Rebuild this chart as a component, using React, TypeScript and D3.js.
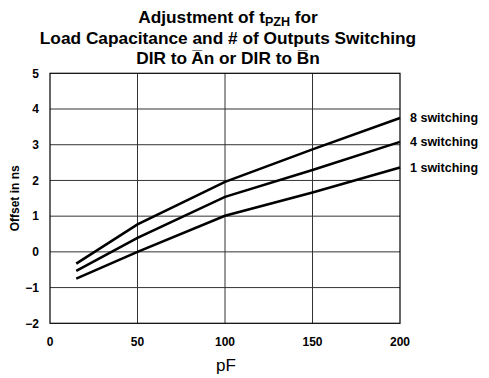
import React from "react";
import * as d3 from "d3";

const capacitance = [15, 50, 100, 150, 200];
const sw8 = [-0.33, 0.77, 1.96, 2.87, 3.75];
const sw4 = [-0.53, 0.39, 1.54, 2.29, 3.08];
const sw1 = [-0.75, 0.0, 1.01, 1.66, 2.36];
const seriesLabels = ["8 switching", "4 switching", "1 switching"];
const xTicks = [0, 50, 100, 150, 200];
const yTicks = [-2, -1, 0, 1, 2, 3, 4, 5];

export default function App() {
  const W = 489, H = 378;
  const x = d3.scaleLinear().domain([0, 200]).range([50, 400]);
  const y = d3.scaleLinear().domain([-2, 5]).range([323.3, 73.3]);
  const line = d3.line<[number, number]>().x(d => x(d[0])).y(d => y(d[1]));
  const series = [sw8, sw4, sw1];
  const font = "Liberation Sans, Arial, Helvetica, sans-serif";
  return (
    <svg width={W} height={H} style={{ position: "absolute", left: 0, top: 0 }} fontFamily={font}>
      <rect width={W} height={H} fill="#fff" />
      <g textAnchor="middle" fontWeight="bold" fontSize={17.3} fill="#000">
        <text x={228} y={23}>
          Adjustment of t<tspan fontSize={12.5} dy={3}>PZH</tspan><tspan dy={-3}> for</tspan>
        </text>
        <text x={228} y={43.5}>Load Capacitance and # of Outputs Switching</text>
        <text x={228} y={63.5}>{"DIR to A\u0305n or DIR to B\u0305n"}</text>
      </g>
      {yTicks.slice(1, -1).map(t => (
        <line key={"gy" + t} x1={x(0)} x2={x(200)} y1={y(t)} y2={y(t)} stroke="#333" strokeWidth={1} />
      ))}
      {xTicks.slice(1, -1).map(t => (
        <line key={"gx" + t} x1={x(t)} x2={x(t)} y1={y(-2)} y2={y(5)} stroke="#333" strokeWidth={1} />
      ))}
      <rect x={x(0)} y={y(5)} width={x(200) - x(0)} height={y(-2) - y(5)} fill="none" stroke="#000" strokeWidth={1.2} />
      {series.map((s, i) => (
        <path key={i} d={line(capacitance.map((c, j) => [c, s[j]] as [number, number])) || ""} fill="none" stroke="#000" strokeWidth={2.6} />
      ))}
      <g fontWeight="bold" fontSize={12} fill="#000">
        {yTicks.map(t => (
          <text key={"ty" + t} x={39} y={y(t)} dy="0.35em" textAnchor="end">{t < 0 ? "\u2212" + Math.abs(t) : t}</text>
        ))}
        {xTicks.map(t => (
          <text key={"tx" + t} x={x(t)} y={346} textAnchor="middle">{t}</text>
        ))}
        <text transform={`translate(19,${y(1.5)}) rotate(-90)`} textAnchor="middle">Offset in ns</text>
      </g>
      <g fontSize={12.5} fill="#000" fontWeight="bold">
        {series.map((s, i) => (
          <text key={"l" + i} x={410} y={y(s[s.length - 1])} dy="0.35em">{seriesLabels[i]}</text>
        ))}
      </g>
      <text x={226} y={371} textAnchor="middle" fontSize={17} fill="#000">pF</text>
    </svg>
  );
}
